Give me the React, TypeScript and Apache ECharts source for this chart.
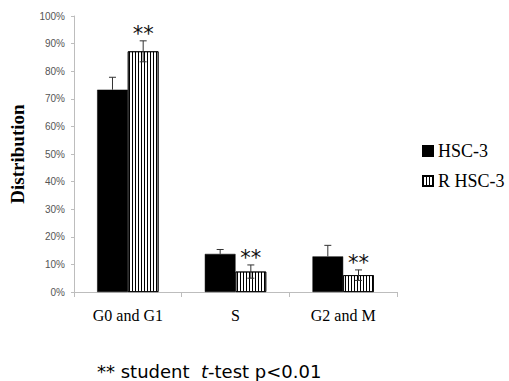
import React, { useEffect, useRef } from "react";
import * as echarts from "echarts";

const categories = ["G0 and G1", "S", "G2 and M"];
const hsc3 = [73.3, 13.8, 12.9];
const hsc3Err = [4.5, 1.6, 4.0];
const rhsc3 = [87.2, 7.4, 6.1];
const rhsc3Err = [3.8, 2.4, 1.9];
const significance = ["**", "**", "**"];
const yTicks = { min: 0, max: 100, interval: 10 };

const BAR_FRAC = 0.285;

export default function App() {
  const ref = useRef<HTMLDivElement>(null);
  useEffect(() => {
    const chart = echarts.init(ref.current!, null, { renderer: "svg" });
    const errData = [
      ...hsc3.map((v, i) => [i, v, hsc3Err[i], -1, ""]),
      ...rhsc3.map((v, i) => [i, v, rhsc3Err[i], 1, significance[i]]),
    ];
    const stripe = {
      symbol: "rect",
      color: "#000",
      backgroundColor: "#fff",
      dashArrayX: [1, 2],
      dashArrayY: [1, 0],
      rotation: 0,
      symbolSize: 1,
    };
    chart.setOption({
      animation: false,
      grid: { left: 70, right: 112, top: 16, bottom: 89 },
      legend: {
        orient: "vertical",
        left: 422,
        top: 142,
        padding: 0,
        itemWidth: 10,
        itemHeight: 10,
        itemGap: 12,
        icon: "rect",
        textStyle: { fontFamily: "Liberation Serif", fontSize: 18, color: "#000" },
        data: ["HSC-3", "R HSC-3"],
      },
      xAxis: {
        type: "category",
        data: categories,
        axisLine: { lineStyle: { color: "#bdbdbd" } },
        axisTick: { show: true, length: 5, lineStyle: { color: "#bdbdbd" } },
        axisLabel: { fontFamily: "Liberation Serif", fontSize: 16, color: "#000", margin: 15 },
      },
      yAxis: {
        type: "value",
        min: yTicks.min,
        max: yTicks.max,
        interval: yTicks.interval,
        name: "Distribution",
        nameLocation: "middle",
        nameGap: 47,
        nameTextStyle: { fontFamily: "Liberation Serif", fontSize: 19, fontWeight: "bold", color: "#000" },
        axisLine: { show: true, lineStyle: { color: "#bdbdbd" } },
        axisTick: { show: true, length: 3, lineStyle: { color: "#bdbdbd" } },
        axisLabel: { formatter: "{value}%", fontFamily: "Liberation Sans", fontSize: 10, color: "#555", margin: 9 },
        splitLine: { show: false },
      },
      series: [
        {
          name: "HSC-3",
          type: "bar",
          data: hsc3,
          barWidth: BAR_FRAC * 100 + "%",
          barGap: "0%",
          itemStyle: { color: "#000", borderColor: "#000", borderWidth: 0.5 },
        },
        {
          name: "R HSC-3",
          type: "bar",
          data: rhsc3,
          barWidth: BAR_FRAC * 100 + "%",
          barGap: "0%",
          itemStyle: { color: "#fff", borderColor: "#000", borderWidth: 0.8, decal: stripe },
        },
        {
          type: "custom",
          z: 10,
          data: errData,
          renderItem: (params: any, api: any) => {
            const idx = api.value(0);
            const v = api.value(1);
            const e = api.value(2);
            const sign = api.value(3);
            const sig = errData[params.dataIndex][4] as string;
            const c = api.coord([idx, v]);
            const w = api.size([1, 0])[0];
            const x = c[0] + (sign * w * BAR_FRAC) / 2;
            const top = api.coord([idx, v + e])[1];
            const bot = sign > 0 ? api.coord([idx, v - e])[1] : c[1];
            const cap = 3.5;
            const st = { stroke: "#333", lineWidth: 1 };
            const children: any[] = [
              { type: "line", shape: { x1: x, y1: top, x2: x, y2: bot }, style: st },
              { type: "line", shape: { x1: x - cap, y1: top, x2: x + cap, y2: top }, style: st },
            ];
            if (sign > 0) {
              children.push({ type: "line", shape: { x1: x - cap, y1: bot, x2: x + cap, y2: bot }, style: st });
            }
            if (sig) {
              children.push({
                type: "text",
                style: {
                  text: sig,
                  x: x,
                  y: top + 4,
                  align: "center",
                  verticalAlign: "bottom",
                  fontFamily: "DejaVu Sans",
                  fontSize: 21,
                  fill: "#111",
                },
              });
            }
            return { type: "group", children };
          },
        },
      ],
      graphic: [
        {
          type: "text",
          left: 97,
          top: 362,
          style: {
            text: "** student  {i|t}-test p<0.01",
            rich: {
              i: { fontStyle: "italic", fontFamily: "DejaVu Sans", fontSize: 18, fill: "#000" },
            },
            fontFamily: "DejaVu Sans",
            fontSize: 18,
            fill: "#000",
          },
        },
      ],
    });
    return () => chart.dispose();
  }, []);
  return <div ref={ref} style={{ position: "absolute", left: 0, top: 0, width: 509, height: 381 }} />;
}
